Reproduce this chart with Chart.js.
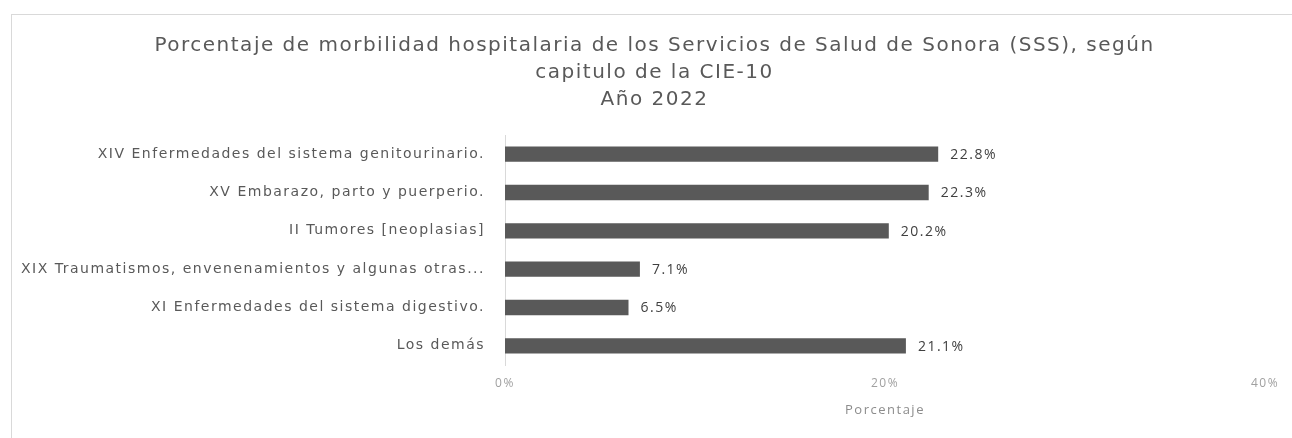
<!DOCTYPE html>
<html>
<head>
<meta charset="utf-8">
<script src="https://cdn.jsdelivr.net/npm/chart.js@4"></script>
<style>
  html, body { margin: 0; padding: 0; background: #fff; }
  #wrap { position: relative; width: 1292px; height: 438px; }
  #frame { position: absolute; left: 11px; top: 14px; right: 0; bottom: 0;
           border-top: 1px solid #d9d9d9; border-left: 1px solid #d9d9d9; }
  canvas { position: absolute; left: 0; top: 0; }
</style>
</head>
<body>
<div id="wrap">
  <div id="frame"></div>
  <canvas id="myChart" width="1292" height="438"></canvas>
</div>
<script>
const ctx = document.getElementById('myChart');

const categories = [
  'XIV Enfermedades del sistema genitourinario.',
  'XV Embarazo, parto y puerperio.',
  'II Tumores [neoplasias]',
  'XIX Traumatismos, envenenamientos y algunas otras...',
  'XI Enfermedades del sistema digestivo.',
  'Los demás'
];
const values = [22.8, 22.3, 20.2, 7.1, 6.5, 21.1];
const titleLines = [
  'Porcentaje de morbilidad hospitalaria de los Servicios de Salud de Sonora (SSS), según',
  'capitulo de la CIE-10',
  'Año 2022'
];
const xTicks = [0, 20, 40];

// the source picture is a bit wide, so spread the letters
const wideText = {
  id: 'wideText',
  afterLayout(chart) {
    // title sits a little right of the canvas centre
    chart.titleBlock.left += 22;
    chart.titleBlock.right += 22;
  },
  beforeDraw(chart) {
    chart.ctx.letterSpacing = '1.5px';
  }
};

// number at the end of each bar
const valueLabels = {
  id: 'valueLabels',
  afterDatasetsDraw(chart) {
    const c = chart.ctx;
    const meta = chart.getDatasetMeta(0);
    c.save();
    c.font = '14px "Open Sans"';
    c.letterSpacing = '1.5px';
    c.fillStyle = '#404040';
    c.textBaseline = 'middle';
    meta.data.forEach((bar, i) => {
      c.fillText(values[i].toFixed(1) + '%', bar.x + 12, bar.y + 1);
    });
    c.restore();
  }
};

new Chart(ctx, {
  type: 'bar',
  data: {
    labels: categories,
    datasets: [{
      data: values,
      backgroundColor: '#595959',
      barPercentage: 0.4,
      categoryPercentage: 1.0
    }]
  },
  plugins: [wideText, valueLabels],
  options: {
    indexAxis: 'y',
    responsive: false,
    animation: false,
    devicePixelRatio: 1,
    layout: {
      padding: { left: 0, right: 27, top: 0, bottom: 20 }
    },
    scales: {
      x: {
        min: 0,
        max: 40,
        afterBuildTicks: (scale) => { scale.ticks = xTicks.map(v => ({ value: v })); },
        grid: { display: false },
        border: { display: false },
        ticks: {
          padding: 3,
          color: '#a0a0a0',
          font: { family: '"Liberation Sans Narrow", "Open Sans"', size: 12 },
          callback: (v) => v + '%'
        },
        title: {
          display: true,
          text: 'Porcentaje',
          color: '#8c8c8c',
          font: { family: '"Liberation Sans Narrow", "Open Sans"', size: 13 },
          padding: { top: 9, bottom: 0 }
        }
      },
      y: {
        afterFit: (scale) => { scale.width = 505; },
        grid: { display: false },
        border: { display: true, color: '#d9d9d9' },
        ticks: {
          padding: 12,
          color: '#595959',
          font: { family: '"DejaVu Sans"', size: 14 }
        }
      }
    },
    plugins: {
      legend: { display: false },
      tooltip: { enabled: false },
      title: {
        display: true,
        text: titleLines,
        color: '#595959',
        font: { family: '"DejaVu Sans"', size: 20, weight: 'normal', lineHeight: 1.35 },
        padding: { top: 32, bottom: 22 }
      }
    }
  }
});
</script>
</body>
</html>
